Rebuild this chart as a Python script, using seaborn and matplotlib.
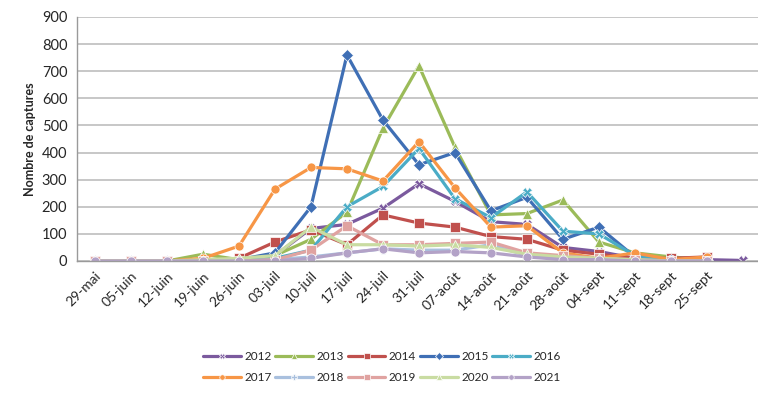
import numpy as np
import pandas as pd
import matplotlib
matplotlib.use('Agg')
import matplotlib.pyplot as plt
import seaborn as sns

# weekly catches per year
weeks = ['29-mai', '05-juin', '12-juin', '19-juin', '26-juin', '03-juil', '10-juil',
         '17-juil', '24-juil', '31-juil', '07-août', '14-août', '21-août', '28-août',
         '04-sept', '11-sept', '18-sept', '25-sept', '']
nan = np.nan
c2012 = [0, 0, 0, 0, 5, 20, 120, 135, 195, 285, 220, 145, 135, 50, 35, 10, 5, 5, 2]
c2013 = [0, 0, 0, 25, 5, 20, 80, 180, 490, 720, 420, 170, 175, 225, 70, 30, 15, 5, nan]
c2014 = [0, 0, 0, 0, 10, 70, 115, 60, 170, 140, 125, 90, 80, 40, 25, 10, 10, 15, nan]
c2015 = [0, 0, 0, 0, 5, 30, 200, 760, 520, 355, 400, 185, 235, 80, 125, 15, 5, 3, nan]
c2016 = [0, 0, 0, 0, 0, 10, 40, 200, 275, 415, 230, 160, 255, 110, 100, 20, 5, 3, nan]
c2017 = [0, 0, 0, 10, 55, 265, 345, 340, 295, 440, 270, 125, 130, 30, 10, 30, 5, 15, nan]
c2018 = [0, 0, 0, 0, 0, 5, 15, 30, 45, 40, 40, 60, 20, 10, 5, 0, 0, 0, nan]
c2019 = [0, 0, 0, 0, 0, 5, 40, 130, 60, 60, 65, 70, 30, 20, 10, 5, 0, 0, nan]
c2020 = [0, 0, 0, 5, 10, 20, 125, 60, 60, 55, 60, 50, 25, 15, 10, 5, 0, 0, nan]
c2021 = [0, 0, 0, 0, 0, 0, 10, 30, 45, 30, 35, 30, 15, 5, 5, 0, 0, 0, nan]

years = ['2012', '2013', '2014', '2015', '2016', '2017', '2018', '2019', '2020', '2021']
series = [c2012, c2013, c2014, c2015, c2016, c2017, c2018, c2019, c2020, c2021]

colors = ['#7b5a9e', '#9bbb59', '#c0504d', '#3f6fb5', '#4bacc6',
          '#f79646', '#a9c0de', '#e0a3a1', '#c9dca2', '#b3a2c7']
marks = ['X', '^', 's', 'D', 'X', 'o', 'P', 's', '^', 'o']

rows = []
for y, vals in zip(years, series):
    for i, v in enumerate(vals):
        rows.append({'week': i, 'year': y, 'n': v})
df = pd.DataFrame(rows).dropna()

sns.set_style('white')
plt.rcParams['font.family'] = ['Lato', 'DejaVu Sans']

fig = plt.figure(figsize=(7.58, 3.99), dpi=100)
ax = fig.add_axes([77 / 758, 138 / 399, 681 / 758, 244 / 399])

sns.lineplot(data=df, x='week', y='n', hue='year', style='year',
             palette=dict(zip(years, colors)), markers=dict(zip(years, marks)),
             dashes=False, linewidth=2.3, markersize=6.5, markeredgewidth=0.5,
             ax=ax, legend=True)

ax.set_xlim(-0.5, 18.42)
ax.set_ylim(0, 900)
ax.set_yticks(range(0, 901, 100))
ax.yaxis.grid(True, color='#bdbdbd', linewidth=1.2)
ax.set_axisbelow(True)
for s in ['top', 'right']:
    ax.spines[s].set_visible(False)
for s in ['left', 'bottom']:
    ax.spines[s].set_color('#9a9a9a')
    ax.spines[s].set_linewidth(1.0)

ax.set_xticks(range(len(weeks)))
ax.set_xticklabels(weeks, rotation=45, ha='right', rotation_mode='anchor', fontsize=10)
ax.set_xticks(np.arange(-0.5, 18.5, 1), minor=True)
ax.tick_params(axis='x', which='major', length=0, pad=6)
ax.tick_params(axis='x', which='minor', length=4, color='#9a9a9a', direction='out')
ax.tick_params(axis='y', length=4, color='#9a9a9a', labelsize=10.5, pad=3)
ax.set_xlabel('')
ax.set_ylabel('Nombre de captures', fontsize=9, fontweight='bold', labelpad=4)

# legend: two rows of five, row-major order
h, l = ax.get_legend_handles_labels()
order = [0, 5, 1, 6, 2, 7, 3, 8, 4, 9]
ax.legend([h[i] for i in order], [l[i] for i in order], ncol=5,
          loc='center', bbox_to_anchor=(382 / 758, 1 - 367 / 399),
          bbox_transform=fig.transFigure, frameon=False, fontsize=8.5,
          handlelength=3.2, handletextpad=0.3, columnspacing=0.3,
          labelspacing=0.9, markerscale=0.6)

fig.savefig('out.png', dpi=100)
